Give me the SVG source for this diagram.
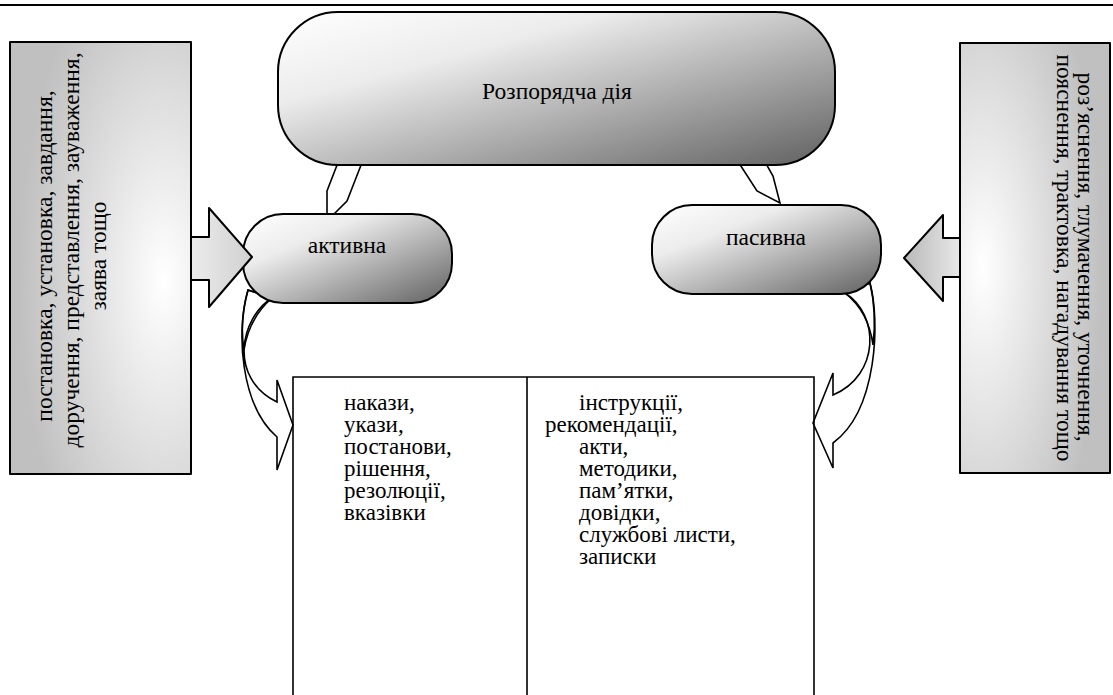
<svg xmlns="http://www.w3.org/2000/svg" width="1113" height="695" viewBox="0 0 1113 695">
<defs>
<style>
.ol{stroke:#000;stroke-width:2;stroke-linejoin:round}
.ln{stroke:#000;stroke-width:1.6;fill:none}
.t{font-family:"Liberation Serif","Times New Roman",serif;font-size:23.5px;fill:#000}
.l{font-family:"Liberation Serif","Times New Roman",serif;font-size:23px;fill:#000}
.m{text-anchor:middle}
</style>
<linearGradient id="gRound" x1="0" y1="0" x2="1" y2="1">
<stop offset="0" stop-color="#ffffff"/>
<stop offset="0.3" stop-color="#ececec"/>
<stop offset="1" stop-color="#606060"/>
</linearGradient>
<radialGradient id="gLeft" cx="0.85" cy="0.55" r="0.8">
<stop offset="0" stop-color="#ffffff"/>
<stop offset="1" stop-color="#c0c0c0"/>
</radialGradient>
<radialGradient id="gRight" cx="0.15" cy="0.52" r="0.8">
<stop offset="0" stop-color="#ffffff"/>
<stop offset="1" stop-color="#c0c0c0"/>
</radialGradient>
<linearGradient id="gArrL" x1="0" y1="0" x2="1" y2="0">
<stop offset="0" stop-color="#ececec"/>
<stop offset="1" stop-color="#d0d0d0"/>
</linearGradient>
<linearGradient id="gArrR" x1="0" y1="0" x2="1" y2="0">
<stop offset="0" stop-color="#b8b8b8"/>
<stop offset="1" stop-color="#e8e8e8"/>
</linearGradient>
</defs>
<rect width="1113" height="695" fill="#fff"/>
<line x1="0" y1="5" x2="1113" y2="5" stroke="#000" stroke-width="2"/>

<g id="table">
<path class="ln" d="M293 700 V377 H814 V700 M527 377 V700"/>
<text class="l" x="344" y="410">накази,</text>
<text class="l" x="344" y="432">укази,</text>
<text class="l" x="344" y="454">постанови,</text>
<text class="l" x="344" y="476">рішення,</text>
<text class="l" x="344" y="498">резолюції,</text>
<text class="l" x="344" y="520">вказівки</text>
<text class="l" x="579" y="410">інструкції,</text>
<text class="l" x="545" y="432">рекомендації,</text>
<text class="l" x="579" y="454">акти,</text>
<text class="l" x="579" y="476">методики,</text>
<text class="l" x="579" y="498">пам’ятки,</text>
<text class="l" x="579" y="520">довідки,</text>
<text class="l" x="579" y="542">службові листи,</text>
<text class="l" x="579" y="564">записки</text>
</g>

<g id="connectors-back">
<polygon class="ln" fill="#fff" points="339,160 327,191 327,216 332,216 347,201 363,160"/>
<polygon class="ln" fill="#fff" points="737,160 757,191 780,203 773,176 764,160"/>
<path class="ln" fill="#fff" d="M248 290 C236 330 240 405 277 437 L277 470 L293 425 L277 380 L277 402 C228 378 240 318 272 298 Z"/>
<path class="ln" fill="#c8c8c8" d="M248 290 C242 312 241 332 244 350 C247 330 256 312 272 298 Z"/>
<path class="ln" fill="#fff" d="M870 283 C880 320 878 410 833 443 L833 468 L813 423 L833 373 L833 395 C880 375 880 315 845 293 Z"/>
<path class="ln" fill="#c8c8c8" d="M845 293 C860 305 870 322 873 345 C876 320 874 300 870 283 Z"/>
</g>

<g id="node-top">
<rect class="ol" x="278" y="12" width="557" height="153" rx="60" ry="60" fill="url(#gRound)"/>
<text class="t m" x="557" y="99">Розпорядча дія</text>
</g>

<g id="node-active">
<rect class="ol" x="243" y="214" width="209" height="89" rx="40" ry="40" fill="url(#gRound)"/>
<text class="t m" x="347" y="253">активна</text>
</g>

<g id="node-passive">
<rect class="ol" x="652" y="205" width="229" height="89" rx="40" ry="40" fill="url(#gRound)"/>
<text class="t m" x="766" y="245">пасивна</text>
</g>

<g id="node-left">
<rect class="ol" x="10" y="42" width="181" height="432" fill="url(#gLeft)"/>
<text class="t m" transform="translate(52,256) rotate(-90)">постановка, установка, завдання,</text>
<text class="t m" transform="translate(79,250) rotate(-90)">доручення, представлення, зауваження,</text>
<text class="t m" transform="translate(106,256) rotate(-90)">заява тощо</text>
</g>

<g id="node-right">
<rect class="ol" x="960" y="43" width="150" height="430" fill="url(#gRight)"/>
<text class="t m" transform="translate(1078,257) rotate(90)">роз’яснення, тлумачення, уточнення,</text>
<text class="t m" transform="translate(1057,258) rotate(90)">пояснення, трактовка, нагадування тощо</text>
</g>

<g id="connectors-front">
<polygon class="ol" fill="url(#gArrL)" points="191,237 209,237 209,208 252,257 209,307 209,280 191,280"/>
<polygon class="ol" fill="url(#gArrR)" points="960,238 943,238 943,215 904,258 943,301 943,277 960,277"/>
</g>
</svg>
